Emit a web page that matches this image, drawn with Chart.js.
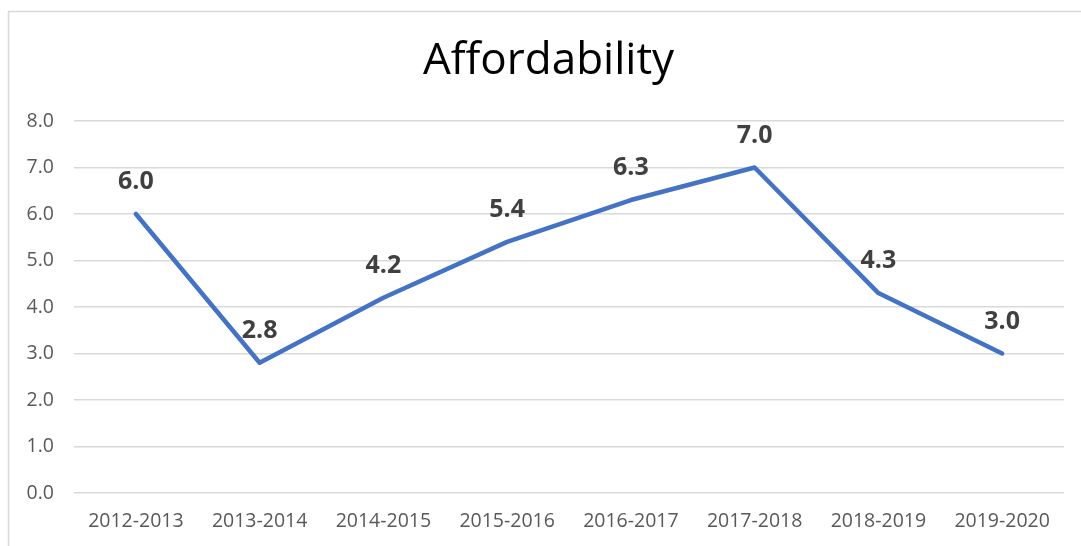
<!DOCTYPE html>
<html>
<head>
<meta charset="utf-8">
<script src="https://cdn.jsdelivr.net/npm/chart.js@4"></script>
<style>
  html, body { margin: 0; padding: 0; background: #ffffff; }
  #wrap { width: 1081px; height: 546px; position: relative; }
</style>
</head>
<body>
<div id="wrap"><canvas id="c" width="1081" height="546"></canvas></div>
<script>
const chartTitle = 'Affordability';
const categories = ['2012-2013', '2013-2014', '2014-2015', '2015-2016', '2016-2017', '2017-2018', '2018-2019', '2019-2020'];
const affordability = [6.0, 2.8, 4.2, 5.4, 6.3, 7.0, 4.3, 3.0];
const yMin = 0;
const yMax = 8;
const yStep = 1;

// Thin gray frame around the chart object, plus the centred title
const framePlugin = {
  id: 'frame',
  beforeDraw(chart) {
    const ctx = chart.ctx;
    ctx.save();
    ctx.strokeStyle = '#d9d9d9';
    ctx.lineWidth = 1.5;
    ctx.strokeRect(8.5, 11.5, chart.width + 20, chart.height + 20);
    ctx.font = '44px "Open Sans"';
    ctx.fillStyle = '#000000';
    ctx.textAlign = 'center';
    ctx.textBaseline = 'middle';
    ctx.fillText(chartTitle, (8 + chart.width) / 2 + 4, 61);
    ctx.restore();
  }
};

// Bold value labels above each point
const valueLabels = {
  id: 'valueLabels',
  afterDatasetsDraw(chart) {
    const ctx = chart.ctx;
    const meta = chart.getDatasetMeta(0);
    const data = chart.data.datasets[0].data;
    ctx.save();
    ctx.font = 'bold 25px "Open Sans"';
    ctx.fillStyle = '#404040';
    ctx.textAlign = 'center';
    ctx.textBaseline = 'middle';
    meta.data.forEach((pt, i) => {
      ctx.fillText(data[i].toFixed(1), pt.x, pt.y - 32);
    });
    ctx.restore();
  }
};

new Chart(document.getElementById('c'), {
  type: 'line',
  data: {
    labels: categories,
    datasets: [{
      data: affordability,
      borderColor: '#4472C4',
      borderWidth: 4.5,
      borderCapStyle: 'round',
      borderJoinStyle: 'round',
      pointRadius: 0,
      pointHoverRadius: 0,
      tension: 0,
      fill: false
    }]
  },
  options: {
    responsive: false,
    animation: false,
    layout: { padding: { left: 0, right: 17, top: 121, bottom: 0 } },
    plugins: {
      legend: { display: false },
      tooltip: { enabled: false },
      title: { display: false }
    },
    scales: {
      x: {
        type: 'category',
        offset: true,
        grid: { display: false, drawTicks: false },
        border: { display: false },
        ticks: {
          color: '#595959',
          font: { family: 'Open Sans', size: 19.5 },
          padding: 17,
          maxRotation: 0,
          autoSkip: false
        },
        afterFit(s) { s.height = 53; }
      },
      y: {
        min: yMin,
        max: yMax,
        grid: { color: '#d9d9d9', lineWidth: 1.5, drawTicks: false },
        border: { display: false },
        ticks: {
          stepSize: yStep,
          color: '#595959',
          font: { family: 'Open Sans', size: 19.5 },
          padding: 20,
          callback: v => Number(v).toFixed(1)
        },
        afterFit(s) { s.width = 74; }
      }
    }
  },
  plugins: [framePlugin, valueLabels]
});
</script>
</body>
</html>
